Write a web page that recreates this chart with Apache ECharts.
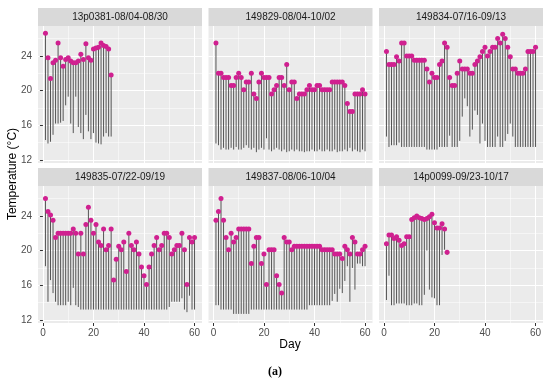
<!DOCTYPE html>
<html>
<head>
<meta charset="utf-8">
<script src="https://cdn.jsdelivr.net/npm/echarts@6/dist/echarts.min.js"></script>
<style>html,body{margin:0;padding:0;background:#fff}#chart{width:550px;height:383px}</style>
</head>
<body>
<div id="chart"></div>
<script>
const panelTitles = ["13p0381-08/04-08/30", "149829-08/04-10/02", "149834-07/16-09/13",
                     "149835-07/22-09/19", "149837-08/06-10/04", "14p0099-09/23-10/17"];
const dayTicks = [0, 20, 40, 60];
const dayMinor = [10, 30, 50];
const tempTicks = [12, 16, 20, 24];
const tempMinor = [14, 18, 22, 26];

const p1Max = [26.6, 23.8, 21.4, 23.2, 23.5, 25.5, 23.8, 22.8, 23.6, 23.8, 23.4, 23.2, 23.2, 23.4, 24.2, 23.6, 25.4, 23.8, 23.5, 24.8, 24.9, 25.0, 25.5, 25.2, 25.1, 24.8, 21.8];
const p1Min = [14.3, 13.9, 14.1, 14.9, 16.2, 16.2, 16.3, 16.5, 18.3, 19.3, 16.2, 15.1, 19.3, 15.8, 15.1, 14.4, 17.2, 15.3, 14.4, 15.1, 14.0, 13.9, 13.8, 14.7, 15.1, 14.7, 14.7];

const p2Max = [25.5, 22.0, 22.0, 21.5, 21.5, 21.5, 20.6, 20.6, 21.5, 22.0, 21.5, 20.1, 21.0, 21.0, 22.0, 19.6, 19.1, 21.0, 22.0, 21.5, 21.5, 21.5, 19.6, 20.1, 20.6, 21.5, 21.5, 20.6, 23.0, 20.1, 21.0, 21.0, 19.1, 19.6, 19.6, 19.6, 20.1, 20.6, 20.1, 20.1, 20.6, 20.6, 20.1, 20.1, 20.1, 20.1, 21.0, 21.0, 21.0, 21.0, 21.0, 20.6, 18.5, 17.6, 17.6, 19.6, 19.6, 19.6, 20.1, 19.6];
const p2Min = [13.9, 13.7, 13.2, 13.4, 13.2, 13.2, 13.4, 13.2, 13.5, 13.2, 13.2, 13.4, 13.7, 13.4, 13.2, 13.4, 12.9, 13.2, 13.4, 13.2, 14.5, 13.2, 13.0, 13.2, 13.4, 13.2, 13.0, 13.2, 12.9, 13.0, 13.2, 13.0, 13.2, 13.0, 13.0, 12.9, 13.0, 13.0, 13.2, 13.0, 13.0, 13.2, 13.0, 13.0, 13.2, 13.0, 13.0, 13.2, 12.9, 13.0, 13.0, 13.2, 13.0, 13.4, 13.0, 13.2, 13.0, 12.9, 13.2, 13.0];

const p3Max = [24.5, 23.0, 23.0, 23.0, 23.9, 23.4, 25.5, 25.5, 24.0, 24.0, 24.0, 23.5, 23.5, 23.5, 23.5, 23.5, 22.5, 21.0, 22.0, 21.5, 21.5, 23.0, 23.4, 25.5, 25.0, 21.5, 20.6, 20.6, 22.0, 23.4, 22.5, 22.5, 22.5, 22.0, 22.0, 23.0, 23.4, 23.9, 24.5, 25.0, 24.0, 24.5, 25.0, 25.0, 26.0, 25.5, 26.5, 26.0, 25.0, 23.9, 22.5, 22.5, 22.0, 22.0, 22.0, 22.5, 24.5, 24.5, 24.5, 25.0];
const p3Min = [14.7, 13.5, 13.7, 13.7, 13.7, 14.0, 13.5, 13.5, 13.5, 13.5, 13.5, 13.5, 13.5, 13.5, 13.5, 13.5, 13.2, 13.2, 13.2, 13.2, 13.2, 13.5, 13.5, 13.5, 13.5, 14.8, 13.5, 13.5, 13.5, 14.2, 17.0, 19.1, 18.2, 14.7, 15.5, 17.7, 17.2, 13.9, 16.2, 14.2, 13.5, 13.5, 13.5, 13.5, 14.7, 13.5, 13.5, 14.2, 15.0, 16.2, 14.7, 13.5, 13.5, 13.5, 13.5, 13.5, 13.5, 13.5, 13.5, 13.5];

const p4Max = [26.0, 24.5, 24.1, 23.5, 21.5, 22.0, 22.0, 22.0, 22.0, 22.0, 22.0, 22.5, 22.0, 19.6, 22.0, 19.6, 23.0, 25.0, 23.5, 22.0, 23.0, 21.0, 20.6, 22.5, 20.1, 20.6, 22.5, 16.6, 19.0, 20.5, 20.1, 21.0, 17.6, 22.0, 20.6, 20.1, 21.0, 19.6, 18.1, 17.1, 16.1, 18.1, 19.6, 20.6, 21.5, 20.1, 20.6, 22.0, 22.0, 21.5, 19.6, 20.1, 20.6, 20.6, 22.0, 20.1, 16.1, 21.5, 21.0, 21.5];
const p4Min = [18.2, 14.1, 16.6, 15.1, 14.1, 13.7, 13.7, 13.7, 13.7, 14.1, 13.7, 15.7, 13.7, 13.5, 13.2, 13.2, 13.2, 13.2, 13.2, 13.2, 13.2, 13.2, 13.2, 13.2, 13.2, 13.2, 13.2, 13.2, 13.2, 13.2, 13.2, 13.2, 13.2, 13.2, 13.2, 13.2, 13.2, 13.2, 13.2, 13.2, 13.2, 13.2, 13.2, 13.2, 13.2, 13.2, 13.2, 13.2, 13.2, 13.5, 14.1, 14.1, 14.1, 14.1, 14.5, 13.2, 12.9, 14.8, 13.2, 13.2];

const p5Max = [23.5, 24.5, 26.0, 23.5, 21.5, 20.1, 22.0, 21.0, 21.5, 22.5, 22.5, 22.5, 22.5, 22.5, 18.5, 20.5, 21.5, 21.5, 18.5, 19.6, 16.1, 20.1, 20.1, 20.1, 17.1, 16.1, 15.1, 21.5, 21.0, 21.0, 20.1, 20.5, 20.5, 20.5, 20.5, 20.5, 20.5, 20.5, 20.5, 20.5, 20.5, 20.5, 20.1, 20.1, 20.1, 20.1, 20.1, 19.6, 19.6, 19.6, 19.1, 20.5, 20.1, 19.6, 21.5, 21.0, 19.6, 19.6, 20.1, 20.5];
const p5Min = [13.7, 13.7, 13.2, 13.2, 13.2, 13.2, 13.2, 12.7, 12.7, 12.7, 12.7, 12.7, 12.7, 12.7, 13.2, 13.2, 13.2, 13.2, 13.2, 13.2, 13.2, 13.2, 13.2, 13.2, 13.2, 13.2, 13.2, 13.2, 13.2, 13.2, 13.2, 13.2, 13.2, 13.2, 13.2, 13.2, 13.2, 13.7, 13.7, 13.7, 13.7, 13.7, 13.7, 13.7, 13.7, 13.7, 14.2, 15.0, 14.1, 15.6, 15.1, 16.5, 18.2, 14.1, 18.0, 15.5, 18.5, 18.5, 18.2, 18.2];

const p6Max = [20.8, 21.8, 21.8, 21.4, 21.6, 21.2, 20.6, 20.8, 21.6, 21.6, 23.6, 23.8, 24.0, 23.8, 23.7, 23.6, 23.7, 23.9, 24.2, 23.2, 22.6, 22.6, 23.1, 22.5, 19.8];
const p6Min = [14.3, 17.1, 13.7, 13.7, 13.9, 13.9, 13.9, 13.9, 13.7, 13.7, 13.7, 13.9, 13.9, 13.7, 13.7, 14.9, 20.0, 15.5, 14.6, 14.5, 13.7, 13.7, 19.5, 20.1, 19.5];

const maxSeries = [p1Max, p2Max, p3Max, p4Max, p5Max, p6Max];
const minSeries = [p1Min, p2Min, p3Min, p4Min, p5Min, p6Min];

// layout
const panelLefts = [38, 208.5, 379];
const panelW = 164, panelH = 137;
const stripH = 18;
const rowStripTop = [8, 168];
const X_MIN = -1.95, X_MAX = 62.95, Y_MIN = 11.65, Y_MAX = 27.45;
const FONT = '"Liberation Sans", Arial, sans-serif';

const grids = [], xAxes = [], yAxes = [], series = [], graphics = [];

panelTitles.forEach((title, i) => {
  const col = i % 3, row = Math.floor(i / 3);
  const left = panelLefts[col];
  const top = rowStripTop[row] + stripH;
  grids.push({left: left, top: top, width: panelW, height: panelH, show: true,
              backgroundColor: '#EBEBEB', borderWidth: 0, containLabel: false});
  const showX = row === 1, showY = col === 0;
  // main x axis
  xAxes.push({gridIndex: i, type: 'value', position: 'bottom', min: X_MIN, max: X_MAX,
    axisLine: {show: false},
    axisTick: {show: showX, customValues: dayTicks, length: 3, lineStyle: {color: '#333333', width: 1}},
    axisLabel: {show: showX, customValues: dayTicks, color: '#4D4D4D', fontSize: 10, fontFamily: FONT, margin: 5},
    splitLine: {show: true, lineStyle: {color: '#FFFFFF', width: 1}}});
  // minor x axis
  xAxes.push({gridIndex: i, type: 'value', position: 'bottom', min: X_MIN, max: X_MAX,
    axisLine: {show: false},
    axisTick: {show: false, customValues: dayMinor},
    axisLabel: {show: false, customValues: dayMinor},
    splitLine: {show: true, lineStyle: {color: '#FFFFFF', width: 0.5}}});
  yAxes.push({gridIndex: i, type: 'value', position: 'left', min: Y_MIN, max: Y_MAX,
    axisLine: {show: false},
    axisTick: {show: showY, customValues: tempTicks, length: 3, lineStyle: {color: '#333333', width: 1}},
    axisLabel: {show: showY, customValues: tempTicks, color: '#4D4D4D', fontSize: 10, fontFamily: FONT, margin: 6},
    splitLine: {show: true, lineStyle: {color: '#FFFFFF', width: 1}}});
  yAxes.push({gridIndex: i, type: 'value', position: 'left', min: Y_MIN, max: Y_MAX,
    axisLine: {show: false},
    axisTick: {show: false, customValues: tempMinor},
    axisLabel: {show: false, customValues: tempMinor},
    splitLine: {show: true, lineStyle: {color: '#FFFFFF', width: 0.5}}});

  const maxs = maxSeries[i], mins = minSeries[i];
  const rangeData = maxs.map((v, k) => [k + 1, mins[k], v]);
  const pointData = maxs.map((v, k) => [k + 1, v]);
  series.push({
    type: 'custom', xAxisIndex: 2 * i, yAxisIndex: 2 * i, z: 2,
    encode: {x: 0, y: [1, 2]},
    data: rangeData,
    renderItem: function (params, api) {
      const a = api.coord([api.value(0), api.value(1)]);
      const b = api.coord([api.value(0), api.value(2)]);
      return {type: 'line', shape: {x1: a[0], y1: a[1], x2: b[0], y2: b[1]},
              style: {stroke: '#555555', lineWidth: 1}};
    }
  });
  series.push({
    type: 'scatter', xAxisIndex: 2 * i, yAxisIndex: 2 * i, z: 3,
    symbol: 'circle', symbolSize: 5,
    itemStyle: {color: '#D02090', opacity: 1},
    data: pointData
  });

  graphics.push({type: 'rect', shape: {x: left, y: rowStripTop[row], width: panelW, height: stripH},
                 style: {fill: '#D9D9D9'}, silent: true});
  graphics.push({type: 'text', x: left + panelW / 2, y: rowStripTop[row] + stripH / 2 + 0.5,
                 style: {text: title, align: 'center', verticalAlign: 'middle',
                         fontSize: 10, fontFamily: FONT, fill: '#1A1A1A'}, silent: true});
});

graphics.push({type: 'text', x: 13, y: 174, rotation: Math.PI / 2,
  style: {text: 'Temperature (°C)', align: 'center', verticalAlign: 'middle', fontSize: 12, fontFamily: FONT, fill: '#000'}});
graphics.push({type: 'text', x: 290, y: 345,
  style: {text: 'Day', align: 'center', verticalAlign: 'middle', fontSize: 12, fontFamily: FONT, fill: '#000'}});
graphics.push({type: 'text', x: 275, y: 372,
  style: {text: '(a)', align: 'center', verticalAlign: 'middle', fontSize: 12, fontWeight: 'bold', fontFamily: '"Liberation Serif", "DejaVu Serif", serif', fill: '#000'}});

const chart = echarts.init(document.getElementById('chart'), null, {renderer: 'canvas'});
chart.setOption({
  animation: false,
  backgroundColor: '#FFFFFF',
  grid: grids, xAxis: xAxes, yAxis: yAxes, series: series, graphic: graphics
});
</script>
</body>
</html>
